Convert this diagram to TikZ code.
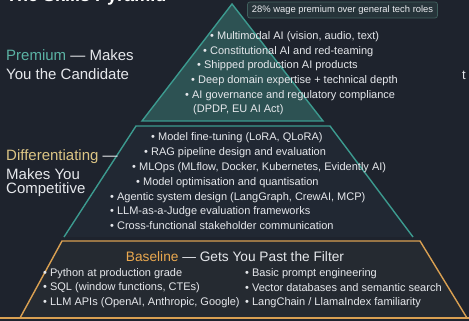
\documentclass[tikz,border=0pt]{standalone}
\usepackage{fontspec}
\setmainfont{Liberation Sans}
\definecolor{bg}{HTML}{1E232D}
\definecolor{premfill}{HTML}{2D5253}
\definecolor{tealline}{HTML}{3C9A8F}
\definecolor{tealtext}{HTML}{5BB3A4}
\definecolor{difffill}{HTML}{212833}
\definecolor{basefill}{HTML}{252A31}
\definecolor{orangeline}{HTML}{D9A052}
\definecolor{orangetext}{HTML}{EBA94F}
\definecolor{goldtext}{HTML}{DCC585}
\definecolor{bodytext}{HTML}{E6E8EC}
\definecolor{badgefill}{HTML}{26343A}
\definecolor{badgeline}{HTML}{40605E}
\tikzset{
  item/.style={anchor=west, inner sep=0pt, text=bodytext, font=\fontsize{11}{12}\selectfont},
  tierlabel/.style={anchor=west, inner sep=0pt, text=bodytext, font=\fontsize{15}{17}\selectfont},
}
\begin{document}
\begin{tikzpicture}[x=1pt,y=-1pt]
\useasboundingbox (0,0) rectangle (469,321);
\fill[bg] (0,0) rectangle (469,321);

% title, running off the top edge
\begin{scope}
\clip (0,0) rectangle (469,321);
\node[anchor=west, inner sep=0pt, text=white, font=\bfseries\fontsize{18}{20}\selectfont] (title) at (6,-3) {The Skills Pyramid};
\node[anchor=west, inner sep=0pt, text=bodytext, font=\fontsize{13}{15}\selectfont] (edge) at (462,75) {t};
\end{scope}

% baseline tier
\fill[basefill] (62,241) -- (420,241) -- (467,318) -- (20,318) -- cycle;
\draw[orangeline, line width=1.4pt] (20,318) -- (62,241) -- (420,241) -- (467,318);
\draw[orangeline, line width=1.4pt] (0,318) -- (469,318);

% differentiating tier
\fill[difffill] (136,126) -- (330,126) -- (413,237) -- (64,237) -- cycle;
\draw[tealline, line width=1.4pt] (64,237) -- (136,126) -- (330,126) -- (413,237);

% premium tier
\fill[premfill] (232,4) -- (323,121) -- (142,121) -- cycle;
\draw[tealline, line width=1.4pt] (232,4) -- (323,121) -- (142,121) -- cycle;

% badge
\node[draw=badgeline, fill=badgefill, rounded corners=2.5pt, line width=0.7pt,
      minimum width=190pt, minimum height=16pt, inner sep=0pt,
      text=bodytext!85, font=\fontsize{9.4}{10}\selectfont] (badge) at (342.5,10) {28\% wage premium over general tech roles};

% tier labels on the left
\node[tierlabel] (premA) at (6,55) {\textcolor{tealtext}{Premium} — Makes};
\node[tierlabel] (premB) at (6,74) {You the Candidate};
\node[tierlabel] (diffA) at (6,157) {\textcolor{goldtext}{Differentiating} —};
\node[tierlabel] (diffB) at (6,174) {Makes You};
\node[tierlabel] (diffC) at (6,190) {Competitive};

% premium items
\node[item] (p1) at (210,37) {• Multimodal AI (vision, audio, text)};
\node[item] (p2) at (203,52) {• Constitutional AI and red-teaming};
\node[item] (p3) at (197,66) {• Shipped production AI products};
\node[item] (p4) at (191,81) {• Deep domain expertise + technical depth};
\node[item] (p5) at (185,96) {• AI governance and regulatory compliance};
\node[item] (p6) at (193,110) {(DPDP, EU AI Act)};

% differentiating items
\node[item] (d1) at (151,138) {• Model fine-tuning (LoRA, QLoRA)};
\node[item] (d2) at (144,153) {• RAG pipeline design and evaluation};
\node[item] (d3) at (132,168) {• MLOps (MLflow, Docker, Kubernetes, Evidently AI)};
\node[item] (d4) at (136,183) {• Model optimisation and quantisation};
\node[item] (d5) at (110,198) {• Agentic system design (LangGraph, CrewAI, MCP)};
\node[item] (d6) at (110,212) {• LLM-as-a-Judge evaluation frameworks};
\node[item] (d7) at (110,226) {• Cross-functional stakeholder communication};

% baseline heading and items
\node[inner sep=0pt, text=bodytext, font=\fontsize{13.7}{15}\selectfont] (baseT) at (235,257) {\textcolor{orangetext}{Baseline} — Gets You Past the Filter};
\node[item] (b1) at (43,274) {• Python at production grade};
\node[item] (b2) at (43,288) {• SQL (window functions, CTEs)};
\node[item] (b3) at (43,303) {• LLM APIs (OpenAI, Anthropic, Google)};
\node[item] (b4) at (245,274) {• Basic prompt engineering};
\node[item] (b5) at (245,288) {• Vector databases and semantic search};
\node[item] (b6) at (245,303) {• LangChain / LlamaIndex familiarity};
\end{tikzpicture}
\end{document}
